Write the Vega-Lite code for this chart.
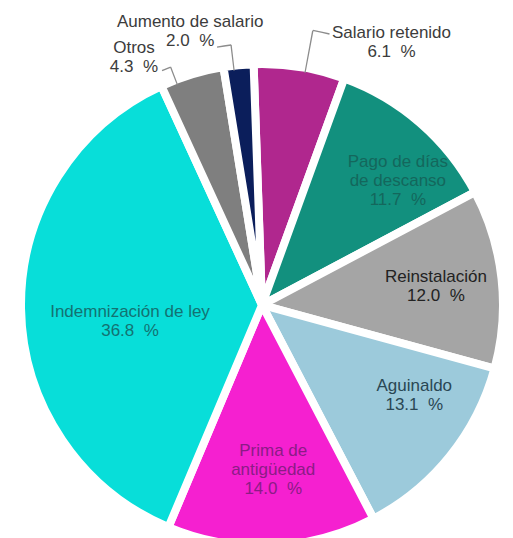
{
  "$schema": "https://vega.github.io/schema/vega-lite/v6.json",
  "width": 500,
  "height": 466,
  "autosize": {"type": "none"},
  "padding": {"left": 12, "top": 72, "right": 1, "bottom": 0},
  "background": "white",
  "config": {"view": {"stroke": null}, "font": "Liberation Sans"},
  "datasets": {
    "slices": [
      {"idx": 1, "cat": "Salario retenido", "pct": 6.1, "label": "Salario retenido\n6.1\u00a0\u00a0%"},
      {"idx": 2, "cat": "Pago de días de descanso", "pct": 11.7, "label": "Pago de días\nde descanso\n11.7\u00a0\u00a0%"},
      {"idx": 3, "cat": "Reinstalación", "pct": 12.0, "label": "Reinstalación\n12.0\u00a0\u00a0%"},
      {"idx": 4, "cat": "Aguinaldo", "pct": 13.1, "label": "Aguinaldo\n13.1\u00a0\u00a0%"},
      {"idx": 5, "cat": "Prima de antigüedad", "pct": 14.0, "label": "Prima de\nantigüedad\n14.0\u00a0\u00a0%"},
      {"idx": 6, "cat": "Indemnización de ley", "pct": 36.8, "label": "Indemnización de ley\n36.8\u00a0\u00a0%"},
      {"idx": 7, "cat": "Otros", "pct": 4.3, "label": "Otros\n4.3\u00a0\u00a0%"},
      {"idx": 8, "cat": "Aumento de salario", "pct": 2.0, "label": "Aumento de salario\n2.0\u00a0\u00a0%"}
    ],
    "leaders": [
      {"who": "Salario retenido", "part": "radial", "t": 3.43, "t2": 3.51},
      {"who": "Salario retenido", "part": "tick", "t": 3.47, "t2": 4.44},
      {"who": "Aumento de salario", "part": "radial", "t": 98.63, "t2": 98.71},
      {"who": "Aumento de salario", "part": "tick", "t": 97.81, "t2": 98.67},
      {"who": "Otros", "part": "radial", "t": 94.68, "t2": 94.76},
      {"who": "Otros", "part": "tick", "t": 94.14, "t2": 94.72}
    ]
  },
  "data": {"name": "slices"},
  "layer": [
    {
      "mark": {"type": "arc", "outerRadius": 241, "stroke": "white", "strokeWidth": 8},
      "encoding": {
        "theta": {"field": "pct", "type": "quantitative", "stack": true, "scale": {"domain": [0, 100], "range": [-0.0349, 6.2483]}},
        "order": {"field": "idx", "type": "quantitative"},
        "color": {
          "field": "cat", "type": "nominal", "legend": null,
          "scale": {
            "domain": ["Salario retenido", "Pago de días de descanso", "Reinstalación", "Aguinaldo", "Prima de antigüedad", "Indemnización de ley", "Otros", "Aumento de salario"],
            "range": ["#B0278E", "#12907E", "#A5A5A5", "#9CCADB", "#F520D0", "#08DED9", "#7F7F7F", "#0B1E5B"]
          }
        }
      }
    },
    {
      "data": {"name": "leaders"},
      "transform": [{"filter": "datum.who === 'Salario retenido' && datum.part === 'radial'"}],
      "mark": {"type": "arc", "radius": 279, "radius2": 236, "color": "#8C8C8C"},
      "encoding": {"theta": {"field": "t", "type": "quantitative", "stack": null}, "theta2": {"field": "t2"}}
    },
    {
      "data": {"name": "leaders"},
      "transform": [{"filter": "datum.who === 'Salario retenido' && datum.part === 'tick'"}],
      "mark": {"type": "arc", "radius": 280, "radius2": 278.6, "color": "#8C8C8C"},
      "encoding": {"theta": {"field": "t", "type": "quantitative", "stack": null}, "theta2": {"field": "t2"}}
    },
    {
      "data": {"name": "leaders"},
      "transform": [{"filter": "datum.who === 'Aumento de salario' && datum.part === 'radial'"}],
      "mark": {"type": "arc", "radius": 262, "radius2": 236, "color": "#8C8C8C"},
      "encoding": {"theta": {"field": "t", "type": "quantitative", "stack": null}, "theta2": {"field": "t2"}}
    },
    {
      "data": {"name": "leaders"},
      "transform": [{"filter": "datum.who === 'Aumento de salario' && datum.part === 'tick'"}],
      "mark": {"type": "arc", "radius": 262.5, "radius2": 261.1, "color": "#8C8C8C"},
      "encoding": {"theta": {"field": "t", "type": "quantitative", "stack": null}, "theta2": {"field": "t2"}}
    },
    {
      "data": {"name": "leaders"},
      "transform": [{"filter": "datum.who === 'Otros' && datum.part === 'radial'"}],
      "mark": {"type": "arc", "radius": 255, "radius2": 236, "color": "#8C8C8C"},
      "encoding": {"theta": {"field": "t", "type": "quantitative", "stack": null}, "theta2": {"field": "t2"}}
    },
    {
      "data": {"name": "leaders"},
      "transform": [{"filter": "datum.who === 'Otros' && datum.part === 'tick'"}],
      "mark": {"type": "arc", "radius": 255.5, "radius2": 254.1, "color": "#8C8C8C"},
      "encoding": {"theta": {"field": "t", "type": "quantitative", "stack": null}, "theta2": {"field": "t2"}}
    },
    {
      "mark": {"type": "text", "fontSize": 17, "lineBreak": "\n", "lineHeight": 19, "align": "center", "baseline": "middle", "radius": 175, "dx": 21, "dy": -11, "fill": "#14675C"},
      "encoding": {
        "theta": {"field": "pct", "type": "quantitative", "stack": true},
        "order": {"field": "idx", "type": "quantitative"},
        "text": {"condition": {"test": "datum.cat === 'Pago de días de descanso'", "field": "label"}, "value": ""}
      }
    },
    {
      "mark": {"type": "text", "fontSize": 17, "lineBreak": "\n", "lineHeight": 19, "align": "center", "baseline": "middle", "radius": 175, "dx": 0, "dy": -9, "fill": "#222222"},
      "encoding": {
        "theta": {"field": "pct", "type": "quantitative", "stack": true},
        "order": {"field": "idx", "type": "quantitative"},
        "text": {"condition": {"test": "datum.cat === 'Reinstalación'", "field": "label"}, "value": ""}
      }
    },
    {
      "mark": {"type": "text", "fontSize": 17, "lineBreak": "\n", "lineHeight": 19, "align": "center", "baseline": "middle", "radius": 175, "dx": 16, "dy": -29, "fill": "#2A4754"},
      "encoding": {
        "theta": {"field": "pct", "type": "quantitative", "stack": true},
        "order": {"field": "idx", "type": "quantitative"},
        "text": {"condition": {"test": "datum.cat === 'Aguinaldo'", "field": "label"}, "value": ""}
      }
    },
    {
      "mark": {"type": "text", "fontSize": 17, "lineBreak": "\n", "lineHeight": 19, "align": "center", "baseline": "middle", "radius": 175, "dx": 4, "dy": -29, "fill": "#8B1C86"},
      "encoding": {
        "theta": {"field": "pct", "type": "quantitative", "stack": true},
        "order": {"field": "idx", "type": "quantitative"},
        "text": {"condition": {"test": "datum.cat === 'Prima de antigüedad'", "field": "label"}, "value": ""}
      }
    },
    {
      "mark": {"type": "text", "fontSize": 17, "lineBreak": "\n", "lineHeight": 19, "align": "center", "baseline": "middle", "radius": 133, "dx": 1, "dy": 5, "fill": "#137272"},
      "encoding": {
        "theta": {"field": "pct", "type": "quantitative", "stack": true},
        "order": {"field": "idx", "type": "quantitative"},
        "text": {"condition": {"test": "datum.cat === 'Indemnización de ley'", "field": "label"}, "value": ""}
      }
    },
    {
      "mark": {"type": "text", "fontSize": 17, "lineBreak": "\n", "lineHeight": 19, "align": "center", "baseline": "middle", "radius": 285, "dx": 85, "dy": 10, "fill": "#3C3C3C"},
      "encoding": {
        "theta": {"field": "pct", "type": "quantitative", "stack": true},
        "order": {"field": "idx", "type": "quantitative"},
        "text": {"condition": {"test": "datum.cat === 'Salario retenido'", "field": "label"}, "value": ""}
      }
    },
    {
      "mark": {"type": "text", "fontSize": 17, "lineBreak": "\n", "lineHeight": 19, "align": "center", "baseline": "middle", "radius": 285, "dx": -45, "dy": 16, "fill": "#3C3C3C"},
      "encoding": {
        "theta": {"field": "pct", "type": "quantitative", "stack": true},
        "order": {"field": "idx", "type": "quantitative"},
        "text": {"condition": {"test": "datum.cat === 'Otros'", "field": "label"}, "value": ""}
      }
    },
    {
      "mark": {"type": "text", "fontSize": 17, "lineBreak": "\n", "lineHeight": 19, "align": "center", "baseline": "middle", "radius": 285, "dx": -44, "dy": 1, "fill": "#3C3C3C"},
      "encoding": {
        "theta": {"field": "pct", "type": "quantitative", "stack": true},
        "order": {"field": "idx", "type": "quantitative"},
        "text": {"condition": {"test": "datum.cat === 'Aumento de salario'", "field": "label"}, "value": ""}
      }
    }
  ]
}
